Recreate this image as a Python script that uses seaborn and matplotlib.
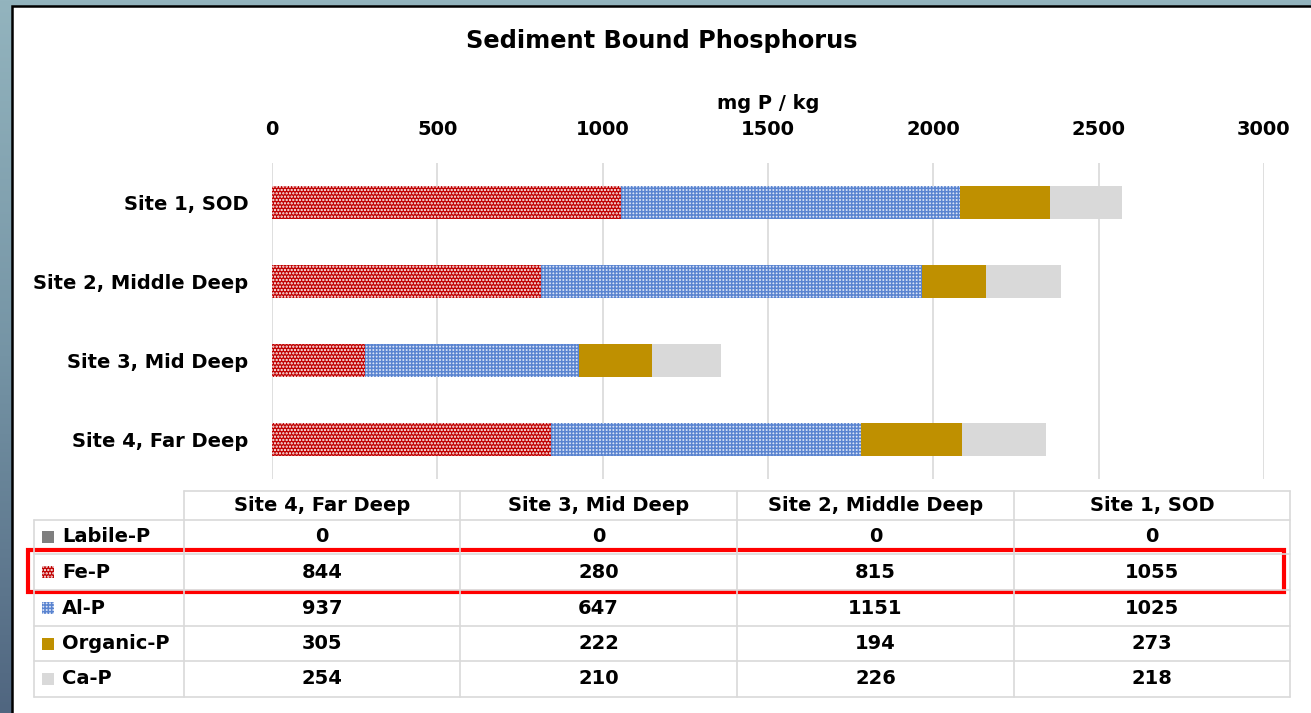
import numpy as np
import pandas as pd
import seaborn as sns
import matplotlib.pyplot as plt
from matplotlib.patches import Rectangle
from matplotlib.colors import LinearSegmentedColormap

sites = ['Site 4, Far Deep', 'Site 3, Mid Deep', 'Site 2, Middle Deep', 'Site 1, SOD']
fractions = ['Labile-P', 'Fe-P', 'Al-P', 'Organic-P', 'Ca-P']
labile_p = [0, 0, 0, 0]
fe_p = [844, 280, 815, 1055]
al_p = [937, 647, 1151, 1025]
organic_p = [305, 222, 194, 273]
ca_p = [254, 210, 226, 218]
xticks = [0, 500, 1000, 1500, 2000, 2500, 3000]

W, H = 1311, 713
FONT = 'DejaVu Sans'
FS = 14

df = pd.DataFrame({'site': sites, 'Labile-P': labile_p, 'Fe-P': fe_p,
                   'Al-P': al_p, 'Organic-P': organic_p, 'Ca-P': ca_p})
# running totals for the stacked bars
df['c1'] = df['Labile-P'] + df['Fe-P']
df['c2'] = df['c1'] + df['Al-P']
df['c3'] = df['c2'] + df['Organic-P']
df['c4'] = df['c3'] + df['Ca-P']

styles = {
    'Labile-P': dict(color='#7f7f7f'),
    'Fe-P': dict(color='#c00000', hatch='.....', edgecolor='white'),
    'Al-P': dict(color='#dce5f6', hatch='+++++', edgecolor='#5a84d0'),
    'Organic-P': dict(color='#bf9000'),
    'Ca-P': dict(color='#d9d9d9'),
}

sns.set_theme(style='white')
plt.rcParams['font.family'] = [FONT]
plt.rcParams['font.weight'] = 'bold'
plt.rcParams['text.color'] = 'black'
plt.rcParams['xtick.color'] = 'black'
plt.rcParams['ytick.color'] = 'black'
plt.rcParams['axes.labelcolor'] = 'black'
plt.rcParams['hatch.linewidth'] = 1.1

fig = plt.figure(figsize=(W / 100, H / 100), dpi=100)

# background: gradient frame + white panel, in pixel coords
bg = fig.add_axes([0, 0, 1, 1], zorder=-5)
grad = np.linspace(0, 1, 256).reshape(-1, 1)
cm = LinearSegmentedColormap.from_list('frame', ['#93b4be', '#7594a5', '#506680'])
bg.imshow(grad, cmap=cm, aspect='auto', extent=[0, W, H, 0])
bg.set_xlim(0, W)
bg.set_ylim(H, 0)
bg.axis('off')
bg.add_patch(Rectangle((12, 6), W, H, facecolor='white', edgecolor='black', lw=1.8))

# stacked bar chart
ax = fig.add_axes([272 / W, 1 - 479 / H, (1264 - 272) / W, (479 - 163) / H])
order = sites[::-1]
for col, frac in [('c4', 'Ca-P'), ('c3', 'Organic-P'), ('c2', 'Al-P'), ('c1', 'Fe-P')]:
    st = styles[frac]
    sns.barplot(data=df, x=col, y='site', order=order, errorbar=None, width=0.41,
                color=st['color'], hatch=st.get('hatch'),
                edgecolor=st.get('edgecolor', st['color']), linewidth=0,
                saturation=1, ax=ax)

ax.set_xlim(0, 3000)
ax.set_ylim(3.5, -0.5)
ax.set_xticks(xticks)
ax.xaxis.tick_top()
ax.xaxis.set_label_position('top')
ax.grid(axis='x', color='#d9d9d9', lw=1.2)
ax.set_axisbelow(True)
for s in ax.spines.values():
    s.set_visible(False)
ax.tick_params(axis='x', length=0, pad=17, labelsize=FS)
ax.tick_params(axis='y', length=0, pad=17, labelsize=FS)
for t in ax.get_xticklabels() + ax.get_yticklabels():
    t.set_fontweight('bold')
ax.set_ylabel('')
ax.set_xlabel('mg P / kg', fontsize=FS, fontweight='bold', labelpad=8)

fig.text(662 / W, 1 - 41 / H, 'Sediment Bound Phosphorus', ha='center', va='center',
         fontsize=17.3, fontweight='bold')

# data table under the chart (pixel coords on the background axes)
col_x = [184, 460, 737, 1014, 1290]
row_y = [491, 520, 554, 590, 626, 661, 697]
gc = '#d9d9d9'
bg.plot([col_x[0], col_x[-1]], [row_y[0]] * 2, color=gc, lw=1.2)
for y in row_y[1:]:
    bg.plot([34, col_x[-1]], [y, y], color=gc, lw=1.2)
bg.plot([34, 34], [row_y[1], row_y[-1]], color=gc, lw=1.2)
for x in col_x:
    bg.plot([x, x], [row_y[0], row_y[-1]], color=gc, lw=1.2)

cols = sites
for j, name in enumerate(cols):
    cx = (col_x[j] + col_x[j + 1]) / 2
    bg.text(cx, (row_y[0] + row_y[1]) / 2, name, ha='center', va='center',
            fontsize=FS, fontweight='bold')
for i, frac in enumerate(fractions):
    cy = (row_y[i + 1] + row_y[i + 2]) / 2
    st = styles[frac]
    bg.add_patch(Rectangle((42, cy - 6), 12, 12, facecolor=st['color'],
                           hatch=st.get('hatch'), edgecolor=st.get('edgecolor', st['color']), lw=0))
    bg.text(62, cy, frac, ha='left', va='center', fontsize=FS, fontweight='bold')
    for j in range(len(cols)):
        cx = (col_x[j] + col_x[j + 1]) / 2
        bg.text(cx, cy, str(df[frac][j]), ha='center', va='center',
                fontsize=FS, fontweight='bold')

# red highlight round the Fe-P row
bg.add_patch(Rectangle((28, 550), 1284 - 28, 42, facecolor='none', edgecolor='#ff0000', lw=3))

fig.savefig('out.png', dpi=100)
